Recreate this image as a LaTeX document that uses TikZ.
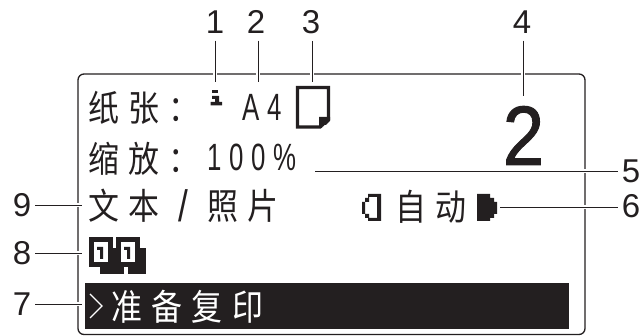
\documentclass[tikz,border=0pt]{standalone}
\usepackage{fontspec}
\setmainfont{Liberation Sans}
\newfontfamily\lcd[FakeStretch=0.86,LetterSpace=26]{Noto Sans CJK SC}
\newfontfamily\lcdd[FakeStretch=0.68,LetterSpace=20]{Liberation Sans}
\newfontfamily\bigd[FakeBold=1.2,FakeStretch=0.88]{Liberation Sans}
\newfontfamily\slashf[FakeStretch=0.8]{Liberation Sans}
\definecolor{ink}{HTML}{231F20}
\tikzset{
  x=1pt,y=-1pt,
  numlabel/.style={inner sep=0pt,font=\fontsize{33}{33}\selectfont,text=ink},
  cjktext/.style={inner sep=0pt,anchor=west,text=ink,font=\fontsize{36}{36}\selectfont\lcd},
  digittext/.style={inner sep=0pt,anchor=west,text=ink,font=\fontsize{38}{38}\selectfont\lcdd},
  leader/.style={draw=ink,line width=0.9pt,preaction={draw=white,line width=4pt}},
  pix/.style={fill=ink,draw=none},
}
\begin{document}
\begin{tikzpicture}
\useasboundingbox (0,0) rectangle (641,336);
% frame
\draw[ink,line width=1.3pt,rounded corners=6pt] (78,74) rectangle (585,334.5);
% bar
\node[pix,anchor=north west,minimum width=484pt,minimum height=46pt,inner sep=0pt] (bar) at (85,283) {};
% labels
\node[numlabel] (l1) at (215,22) {1};
\node[numlabel] (l2) at (256,22) {2};
\node[numlabel] (l3) at (311,22) {3};
\node[numlabel] (l4) at (522,22) {4};
\node[numlabel] (l5) at (631,171) {5};
\node[numlabel] (l6) at (631,206) {6};
\node[numlabel] (l7) at (22,304) {7};
\node[numlabel] (l8) at (22,253) {8};
\node[numlabel] (l9) at (22,205) {9};
% targets
\coordinate (t1) at (215,82);
\coordinate (t2) at (258,82);
\coordinate (t3) at (312,82);
\coordinate (t4) at (523,96);
\coordinate (t5) at (315,171);
\coordinate (t6) at (500,207);
\coordinate (t7) at (82,304);
\coordinate (t8) at (82,253);
\coordinate (t9) at (82,205);
% leaders
\draw[leader,shorten <=7pt] (l1.south -| t1) -- (t1);
\draw[leader,shorten <=7pt] (l2.south -| t2) -- (t2);
\draw[leader,shorten <=7pt] (l3.south -| t3) -- (t3);
\draw[leader,shorten <=7pt] (l4.south -| t4) -- (t4);
\draw[leader,shorten <=4pt] (l5.west |- t5) -- (t5);
\draw[leader,shorten <=4pt] (l6.west |- t6) -- (t6);
\draw[leader,shorten <=4pt] (l7.east |- t7) -- (t7);
\draw[leader,shorten <=4pt] (l8.east |- t8) -- (t8);
\draw[leader,shorten <=4pt] (l9.east |- t9) -- (t9);
% texts
\node[cjktext] (paper) at (88,108) {纸张：};
\node[cjktext] (zoom) at (88,159) {缩放：};
\node[cjktext] (doctype) at (88,206) {文本};
\node[inner sep=0pt,text=ink,font=\fontsize{44}{44}\selectfont\slashf,anchor=center] (slash) at (183,206) {/};
\node[cjktext] (photo) at (207,206) {照片};
\node[cjktext] (auto) at (395,207) {自动};
\node[digittext] (pct) at (207,157) {100\%};
\node[digittext] (a4) at (242,107) {A4};
\node[inner sep=0pt,text=ink,font=\fontsize{84}{84}\selectfont\bigd] (big) at (523.5,135.5) {2};
\node[cjktext,text=white,anchor=west] (ready) at (111,307) {准备复印};
\draw[white,line width=1.4pt] (90,294) -- (102,306) -- (90,318);
% icon 1: info glyph
\fill[ink] (212,90) rectangle (218,93.5);
\fill[ink] (212,96) rectangle (219,99) (215,96) rectangle (219,103) (210.5,102) rectangle (222,105.5);
% icon 3: paper
\draw[ink,line width=3.4pt,miter limit=10] (297.5,87.5) -- (328.5,87.5) -- (328.5,119) -- (320,127) -- (297.5,127) -- cycle;
\fill[ink] (319,117) -- (330,117) -- (330,121) -- (326,125) -- (322,125) -- (322,128) -- (319,128) -- cycle;
% icon 8: duplex
\fill[ink] (100,248) rectangle (124,274);
\fill[ink] (128,248) rectangle (146,274);
\foreach \x in {89,116}{
  \fill[ink] (\x,237) rectangle (\x+24,267);
  \fill[white] (\x+5,242) rectangle (\x+19,262);
  \fill[ink] (\x+8,247) rectangle (\x+14,250) (\x+11,247) rectangle (\x+14,259);
}
% icon 6: density
\fill[ink,even odd rule] (368,194) -- (381,194) -- (381,221) -- (368,221) -- (368,218) -- (365,218) -- (365,214) -- (362,214) -- (362,202) -- (365,202) -- (365,198) -- (368,198) -- cycle
 (369,197) -- (377,197) -- (377,218) -- (369,218) -- (369,214) -- (365,214) -- (365,202) -- (369,202) -- cycle;
\fill[ink] (477,194) -- (490,194) -- (490,198) -- (494,198) -- (494,202) -- (497,202) -- (497,214) -- (494,214) -- (494,218) -- (490,218) -- (490,221) -- (477,221) -- cycle;
\end{tikzpicture}
\end{document}
